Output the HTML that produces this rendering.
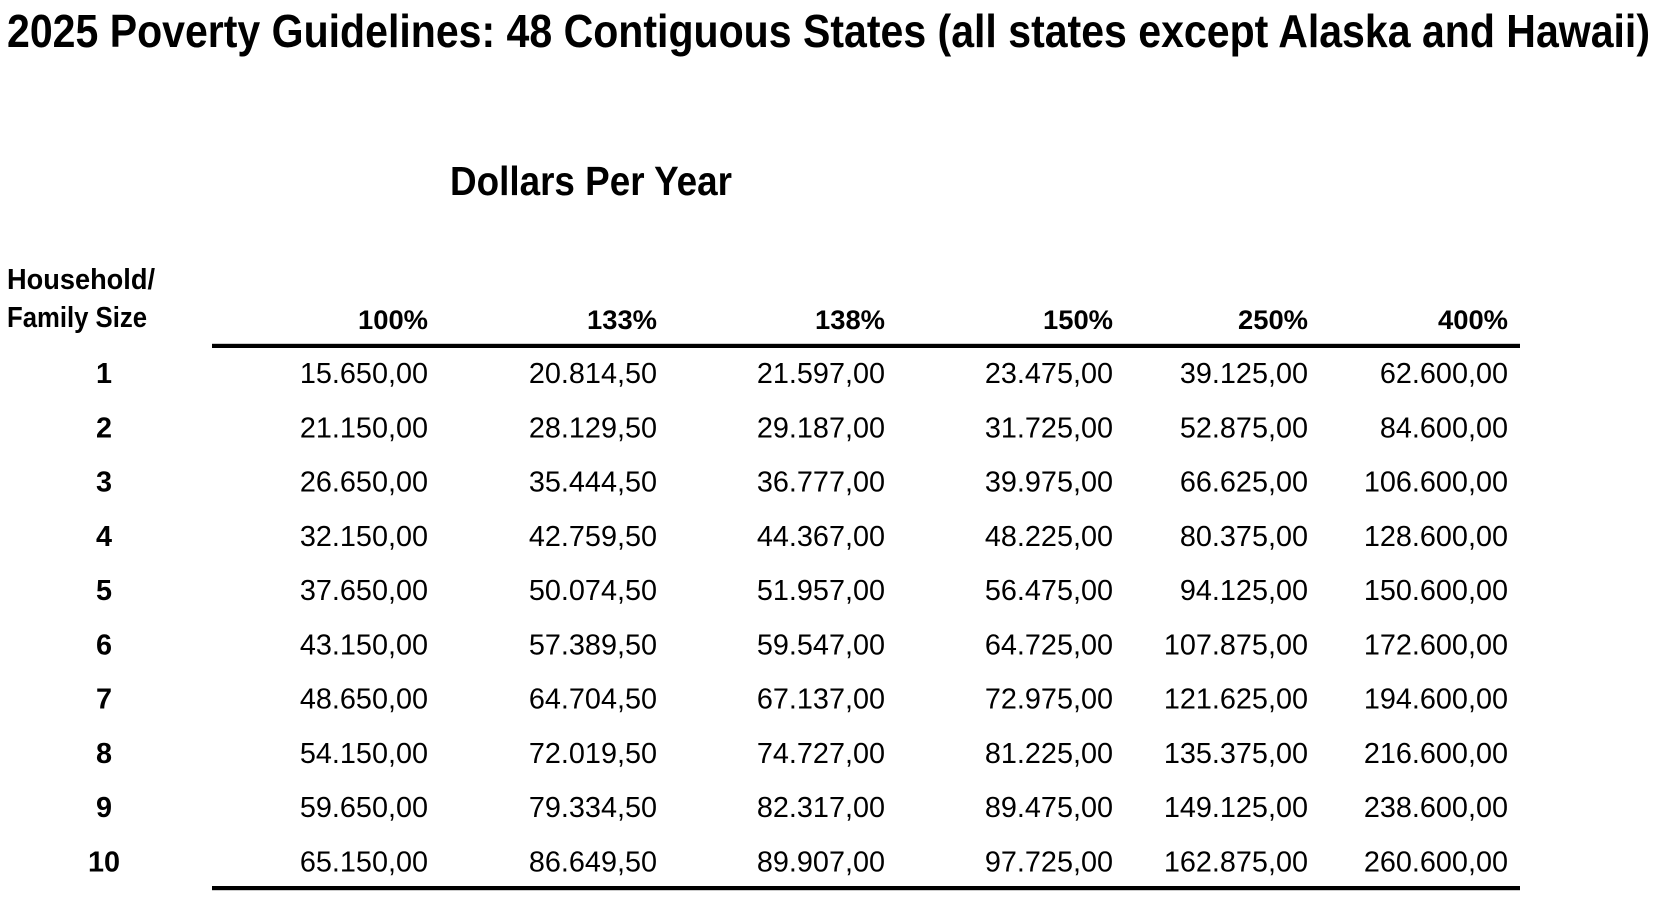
<!DOCTYPE html>
<html>
<head>
<meta charset="utf-8">
<style>
  html, body { margin: 0; padding: 0; background: #ffffff; }
  body { width: 1670px; height: 910px; overflow: hidden; }
  svg { display: block; }
  text { font-family: "Liberation Sans", Arial, sans-serif; fill: #000; }
  .b { font-weight: bold; }
  .num { font-size: 28.8px; }
  .hdr { font-size: 27px; font-weight: bold; }
  .lbl { font-size: 28.8px; font-weight: bold; }
</style>
</head>
<body>
<svg width="1670" height="910" viewBox="0 0 1670 910" xmlns="http://www.w3.org/2000/svg">
  <rect x="0" y="0" width="1670" height="910" fill="#ffffff"/>

  <!-- Title -->
  <text class="b" x="7" y="47" font-size="46" textLength="1643" lengthAdjust="spacingAndGlyphs">2025 Poverty Guidelines: 48 Contiguous States (all states except Alaska and Hawaii)</text>

  <!-- Subtitle -->
  <text class="b" x="450" y="195" font-size="41" textLength="282" lengthAdjust="spacingAndGlyphs">Dollars Per Year</text>

  <!-- Row header label -->
  <text class="b" x="7" y="289" font-size="29" textLength="148" lengthAdjust="spacingAndGlyphs">Household/</text>
  <text class="b" x="7" y="327" font-size="29" textLength="140" lengthAdjust="spacingAndGlyphs">Family Size</text>

  <!-- Column headers -->
  <g class="hdr" text-anchor="end">
    <text x="428" y="329" textLength="70" lengthAdjust="spacingAndGlyphs">100%</text>
    <text x="657" y="329" textLength="70" lengthAdjust="spacingAndGlyphs">133%</text>
    <text x="885" y="329" textLength="70" lengthAdjust="spacingAndGlyphs">138%</text>
    <text x="1113" y="329" textLength="70" lengthAdjust="spacingAndGlyphs">150%</text>
    <text x="1308" y="329" textLength="70" lengthAdjust="spacingAndGlyphs">250%</text>
    <text x="1508" y="329" textLength="70" lengthAdjust="spacingAndGlyphs">400%</text>
  </g>

  <!-- Rules -->
  <rect x="212" y="343.8" width="1308" height="4.2" fill="#000"/>
  <rect x="212" y="886" width="1308" height="4.2" fill="#000"/>

  <!-- Row labels -->
  <g class="lbl" text-anchor="middle">
    <text x="104" y="383">1</text>
    <text x="104" y="437.25">2</text>
    <text x="104" y="491.5">3</text>
    <text x="104" y="545.75">4</text>
    <text x="104" y="600">5</text>
    <text x="104" y="654.25">6</text>
    <text x="104" y="708.5">7</text>
    <text x="104" y="762.75">8</text>
    <text x="104" y="817">9</text>
    <text x="104" y="871.25">10</text>
  </g>

  <!-- 100% -->
  <g class="num" text-anchor="end">
    <text x="428" y="383">15.650,00</text>
    <text x="428" y="437.25">21.150,00</text>
    <text x="428" y="491.5">26.650,00</text>
    <text x="428" y="545.75">32.150,00</text>
    <text x="428" y="600">37.650,00</text>
    <text x="428" y="654.25">43.150,00</text>
    <text x="428" y="708.5">48.650,00</text>
    <text x="428" y="762.75">54.150,00</text>
    <text x="428" y="817">59.650,00</text>
    <text x="428" y="871.25">65.150,00</text>
  </g>

  <!-- 133% -->
  <g class="num" text-anchor="end">
    <text x="657" y="383">20.814,50</text>
    <text x="657" y="437.25">28.129,50</text>
    <text x="657" y="491.5">35.444,50</text>
    <text x="657" y="545.75">42.759,50</text>
    <text x="657" y="600">50.074,50</text>
    <text x="657" y="654.25">57.389,50</text>
    <text x="657" y="708.5">64.704,50</text>
    <text x="657" y="762.75">72.019,50</text>
    <text x="657" y="817">79.334,50</text>
    <text x="657" y="871.25">86.649,50</text>
  </g>

  <!-- 138% -->
  <g class="num" text-anchor="end">
    <text x="885" y="383">21.597,00</text>
    <text x="885" y="437.25">29.187,00</text>
    <text x="885" y="491.5">36.777,00</text>
    <text x="885" y="545.75">44.367,00</text>
    <text x="885" y="600">51.957,00</text>
    <text x="885" y="654.25">59.547,00</text>
    <text x="885" y="708.5">67.137,00</text>
    <text x="885" y="762.75">74.727,00</text>
    <text x="885" y="817">82.317,00</text>
    <text x="885" y="871.25">89.907,00</text>
  </g>

  <!-- 150% -->
  <g class="num" text-anchor="end">
    <text x="1113" y="383">23.475,00</text>
    <text x="1113" y="437.25">31.725,00</text>
    <text x="1113" y="491.5">39.975,00</text>
    <text x="1113" y="545.75">48.225,00</text>
    <text x="1113" y="600">56.475,00</text>
    <text x="1113" y="654.25">64.725,00</text>
    <text x="1113" y="708.5">72.975,00</text>
    <text x="1113" y="762.75">81.225,00</text>
    <text x="1113" y="817">89.475,00</text>
    <text x="1113" y="871.25">97.725,00</text>
  </g>

  <!-- 250% -->
  <g class="num" text-anchor="end">
    <text x="1308" y="383">39.125,00</text>
    <text x="1308" y="437.25">52.875,00</text>
    <text x="1308" y="491.5">66.625,00</text>
    <text x="1308" y="545.75">80.375,00</text>
    <text x="1308" y="600">94.125,00</text>
    <text x="1308" y="654.25">107.875,00</text>
    <text x="1308" y="708.5">121.625,00</text>
    <text x="1308" y="762.75">135.375,00</text>
    <text x="1308" y="817">149.125,00</text>
    <text x="1308" y="871.25">162.875,00</text>
  </g>

  <!-- 400% -->
  <g class="num" text-anchor="end">
    <text x="1508" y="383">62.600,00</text>
    <text x="1508" y="437.25">84.600,00</text>
    <text x="1508" y="491.5">106.600,00</text>
    <text x="1508" y="545.75">128.600,00</text>
    <text x="1508" y="600">150.600,00</text>
    <text x="1508" y="654.25">172.600,00</text>
    <text x="1508" y="708.5">194.600,00</text>
    <text x="1508" y="762.75">216.600,00</text>
    <text x="1508" y="817">238.600,00</text>
    <text x="1508" y="871.25">260.600,00</text>
  </g>
</svg>
</body>
</html>
